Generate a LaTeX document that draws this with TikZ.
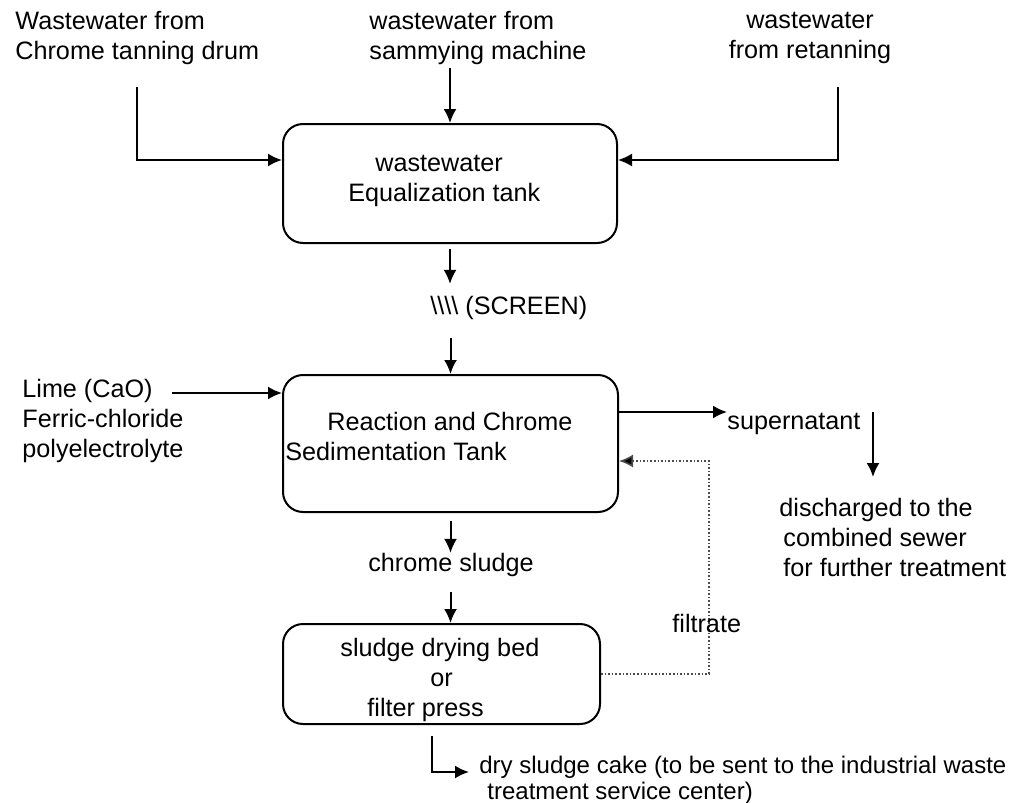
\documentclass[tikz,border=0pt]{standalone}
\usepackage{fontspec}
\setmainfont{Liberation Sans}
\usetikzlibrary{arrows.meta}
\tikzstyle{tank}=[draw, line width=1pt, rounded corners=10pt, inner sep=0pt]
\tikzstyle{txt}=[inner sep=0pt, align=left, anchor=west]
\tikzstyle{flow}=[line width=1pt, -{Latex[length=7pt,width=6.5pt]}]
\tikzstyle{recycle}=[line width=0.8pt, densely dotted, black!70, -{Latex[length=7pt,width=6.5pt,fill=black]}]

\begin{document}
\begin{tikzpicture}[x=0.5pt, y=-0.5pt, font=\fontsize{12.6}{15}\selectfont]
    \useasboundingbox (0,0) rectangle (1018,803);
    % tanks
    \node [tank, minimum width=167pt, minimum height=59.5pt] (eq) at (450,183.5) {};
    \node [tank, minimum width=167.5pt, minimum height=68.5pt] (react) at (450.5,443.5) {};
    \node [tank, minimum width=158.5pt, minimum height=50pt] (dry) at (441.5,674) {};
    \node [txt] (eqtxt) at (348,181) {\hspace*{13.5pt}wastewater\\Equalization tank};
    \node [txt] (reacttxt) at (285,436.5) {\hspace*{21pt}Reaction and Chrome\\Sedimentation Tank};
    \node [txt] (drytxt) at (340,680) {sludge drying bed\\\hspace*{45pt}or\\\hspace*{13.5pt}filter press};
    % sources
    \node [txt] (drum) at (15,38) {Wastewater from\\Chrome tanning drum};
    \node [txt] (sam) at (369,38) {wastewater from\\sammying machine};
    \node [txt, align=center, anchor=center] (ret) at (810,38) {wastewater\\from retanning};
    \coordinate (drumtop) at (137,87);
    \coordinate (samtop) at (450,68);
    \coordinate (rettop) at (838,87);
    \draw [flow] (drumtop) |- ([yshift=11.75pt]eq.west);
    \draw [flow] (samtop) -- (eq.north);
    \draw [flow] (rettop) |- ([yshift=11.75pt]eq.east);
    % screen
    \node [txt, inner ysep=6pt] (scrn) at (430,308) {\textbackslash\textbackslash\textbackslash\textbackslash{} (SCREEN)};
    \draw [flow] ([yshift=-2.5pt]eq.south) -- (eq.south |- scrn.north);
    \draw [flow] ([yshift=-3pt]scrn.south -| react.north) -- (react.north);
    % chemicals
    \node [txt] (lime) at (22,421) {Lime (CaO)\\Ferric-chloride\\polyelectrolyte};
    \coordinate (limeout) at (172,393);
    \draw [flow] (limeout) -- (react.west |- limeout);
    % supernatant
    \node [txt] (super) at (727,424) {supernatant};
    \draw [flow] ([yshift=15.75pt]react.east) -- ([yshift=15.75pt]react.east -| super.west);
    \coordinate (sdtop) at (873,412);
    \coordinate (sdbot) at (873,477);
    \draw [flow] (sdtop) -- (sdbot);
    \node [txt] (disch) at (779,537) {discharged to the\\\hspace*{2pt}combined sewer\\\hspace*{2pt}for further treatment};
    % sludge
    \node [txt, anchor=center] (sludge) at (451,565) {chrome sludge};
    \draw [flow] ([yshift=-4pt]react.south) -- (react.south |- sludge.north);
    \draw [flow] ([yshift=-7.5pt]sludge.south -| react.south) -- (dry.north -| react.south);
    % filtrate
    \coordinate (fcorner) at (709,461);
    \draw [recycle] (dry.east) -| (fcorner) -- ([yshift=-8.75pt]react.east);
    \node [txt] (filt) at (672,623) {filtrate};
    % cake
    \node [txt, font=\fontsize{12}{13}\selectfont] (cake) at (479,780) {dry sludge cake (to be sent to the industrial waste\\\hspace*{4pt}treatment service center)};
    \draw [flow] ([xshift=-4.75pt,yshift=-5.5pt]dry.south) |- ([xshift=-5pt,yshift=4pt]cake.west);
\end{tikzpicture}
\end{document}
